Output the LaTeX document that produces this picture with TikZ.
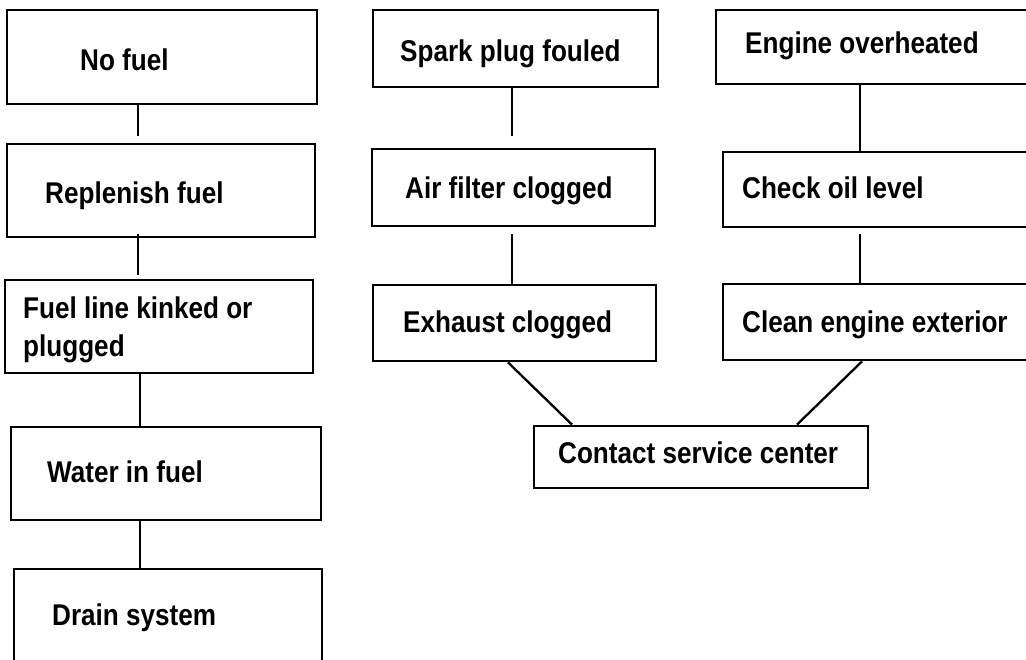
\documentclass[tikz,border=0pt]{standalone}
\usepackage{fontspec}
\setmainfont[FakeStretch=0.87]{Liberation Sans}
\begin{document}
\begin{tikzpicture}[x=1pt, y=-1pt]
	\tikzset{trnode/.style={rectangle, draw, line width=2.8pt,
				inner sep=0pt}}
	\tikzset{trline/.style={line width=2.3pt}}
	\tikzset{trtext/.style={anchor=base west, inner sep=0pt,
				font=\fontsize{30}{39}\selectfont\bfseries, align=left}}

	\useasboundingbox (0,0) rectangle (1026,660);
	\clip (0,0) rectangle (1026,660);

	% fuel column
	\node[trnode, minimum width=310pt, minimum height=94pt] (nofuel) at (162,57) {};
	\node[trnode, minimum width=308pt, minimum height=93pt] (replenish) at (161,190.5) {};
	\node[trnode, minimum width=308pt, minimum height=93pt] (fuelline) at (159,326.5) {};
	\node[trnode, minimum width=310pt, minimum height=93pt] (water) at (166,473.5) {};
	\node[trnode, minimum width=308pt, minimum height=93pt] (drain) at (168,615.5) {};

	\node[trtext] () at (80,71) {No fuel};
	\node[trtext] () at (45,204) {Replenish fuel};
	\node[trtext] () at (23,357) {Fuel line kinked or\\plugged};
	\node[trtext] () at (47,482) {Water in fuel};
	\node[trtext] () at (52,625) {Drain system};

	\draw[trline] ([xshift=-24pt]nofuel.south) -- ([xshift=-23pt,yshift=7pt]replenish.north);
	\draw[trline] ([xshift=-23pt,yshift=4pt]replenish.south) -- ([xshift=-21pt,yshift=4pt]fuelline.north);
	\draw[trline] ([xshift=-19pt]fuelline.south) -- ([xshift=-26pt]water.north);
	\draw[trline] ([xshift=-26pt]water.south) -- ([xshift=-28pt]drain.north);

	% ignition column
	\node[trnode, minimum width=285pt, minimum height=77pt] (spark) at (515.5,48.5) {};
	\node[trnode, minimum width=283pt, minimum height=77pt] (airfilter) at (513.5,187.5) {};
	\node[trnode, minimum width=283pt, minimum height=76pt] (exhaust) at (514.5,323) {};

	\node[trtext] () at (400,62) {Spark plug fouled};
	\node[trtext] () at (405,199) {Air filter clogged};
	\node[trtext] () at (403,333) {Exhaust clogged};

	\draw[trline] ([xshift=-3.5pt]spark.south) -- ([xshift=-1.5pt,yshift=12pt]airfilter.north);
	\draw[trline] ([xshift=-1.5pt,yshift=-7pt]airfilter.south) -- ([xshift=-2.5pt]exhaust.north);

	% engine column
	\node[trnode, minimum width=324pt, minimum height=74pt] (overheat) at (878,47) {};
	\node[trnode, minimum width=322pt, minimum height=75pt] (oillevel) at (884,189.5) {};
	\node[trnode, minimum width=322pt, minimum height=76pt] (exterior) at (884,322) {};

	\node[trtext] () at (745,54) {Engine overheated};
	\node[trtext] () at (742,199) {Check oil level};
	\node[trtext] () at (742,333) {Clean engine exterior};

	\draw[trline] ([xshift=-18pt]overheat.south) -- ([xshift=-24pt]oillevel.north);
	\draw[trline] ([xshift=-24pt,yshift=-6pt]oillevel.south) -- ([xshift=-24pt]exterior.north);

	% service
	\node[trnode, minimum width=334pt, minimum height=62pt] (service) at (701,457) {};
	\node[trtext] () at (558,463) {Contact service center};

	\draw[trline] ([xshift=-6.5pt]exhaust.south) -- ([xshift=-129pt]service.north);
	\draw[trline] ([xshift=-22pt]exterior.south) -- ([xshift=96pt]service.north);
\end{tikzpicture}
\end{document}
